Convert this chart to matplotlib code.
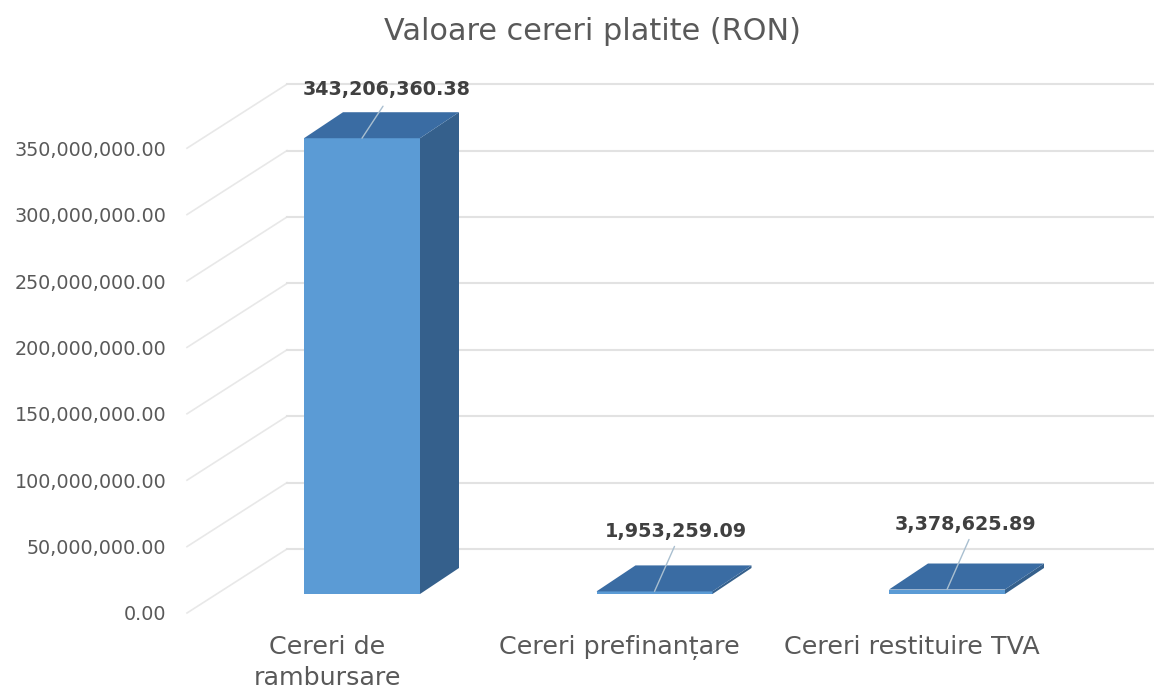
import matplotlib
matplotlib.use("Agg")
import matplotlib.pyplot as plt
from matplotlib.patches import Polygon
from matplotlib.transforms import ScaledTranslation

categories = ["Cereri de\nrambursare", "Cereri prefinanțare", "Cereri restituire TVA"]
values = [343206360.38, 1953259.09, 3378625.89]
y_ticks = [0, 50000000, 100000000, 150000000, 200000000, 250000000, 300000000, 350000000]

TEXT = "#595959"
GRID = "#e2e2e2"
FRONT = "#5b9bd5"
TOP = "#3a6ca3"
SIDE = "#35608c"

# 3D look: px sizes of the image turned into data units below
PX_PER_CAT = 292.5
PX_PER_VAL = 1.328e-6
WALL_DX = 100 / PX_PER_CAT
WALL_DY = 64 / PX_PER_VAL
BAR_DX = 39 / PX_PER_CAT
BAR_DY = 26 / PX_PER_VAL
BAR_W = 116 / PX_PER_CAT
FLOOR = 19 / PX_PER_VAL

plt.rcParams["font.family"] = ["DejaVu Sans"]

W, H = 1154, 690
fig = plt.figure(figsize=(W / 100, H / 100), dpi=100)
ax = fig.add_axes([187 / W, (H - 613) / H, (W - 187) / W, 613 / H])
ax.set_xlim((187 - 362) / PX_PER_CAT, (W - 362) / PX_PER_CAT)
ax.set_ylim(0, 613 / PX_PER_VAL)
for s in ax.spines.values():
    s.set_visible(False)

# wall lines with the diagonal on the left
x_left = ax.get_xlim()[0]
x_right = ax.get_xlim()[1]
for v in y_ticks:
    ax.plot([x_left, x_left + WALL_DX], [v, v + WALL_DY], color="#e8e8e8", lw=1.2, zorder=1, clip_on=False)
    ax.plot([x_left + WALL_DX, x_right], [v + WALL_DY, v + WALL_DY], color=GRID, lw=1.5, zorder=1, clip_on=False)

for i, v in enumerate(values):
    x0 = i - BAR_W / 2
    x1 = i + BAR_W / 2
    y0 = FLOOR
    y1 = FLOOR + v
    ax.bar(i, v, BAR_W, bottom=FLOOR, color=FRONT, zorder=2)
    ax.add_patch(Polygon([(x1, y0), (x1 + BAR_DX, y0 + BAR_DY), (x1 + BAR_DX, y1 + BAR_DY), (x1, y1)],
                         color=SIDE, lw=0, zorder=2))
    ax.add_patch(Polygon([(x0, y1), (x0 + BAR_DX, y1 + BAR_DY), (x1 + BAR_DX, y1 + BAR_DY), (x1, y1)],
                         color=TOP, lw=0, zorder=3))

# data labels with leader lines, offsets in px from the bar top centre
label_off = [(25, 49), (21, 60), (19, 65)]
leader_off = [(21, 32), (20, 45), (22, 50)]
for i, v in enumerate(values):
    ax.annotate(f"{v:,.2f}", (i, FLOOR + v), xytext=label_off[i], textcoords="offset pixels",
                ha="center", va="center", fontsize=13.8, fontweight="bold",
                color="#404040", zorder=5)
    ax.annotate("", (i, FLOOR + v), xytext=leader_off[i], textcoords="offset pixels",
                arrowprops=dict(arrowstyle="-", color="#a9bfd0", lw=1, shrinkA=0, shrinkB=0), zorder=4)

ax.set_yticks(y_ticks)
ax.set_yticklabels([f"{v:,.2f}" for v in y_ticks])
ax.set_xticks(range(len(categories)))
ax.set_xticklabels(categories, linespacing=1.35)
ax.tick_params(axis="y", length=0, pad=15, labelsize=13.8, labelcolor=TEXT)
ax.tick_params(axis="x", length=0, pad=16, labelsize=18.3, labelcolor=TEXT)
shift = ScaledTranslation(-35 / 100, 0, fig.dpi_scale_trans)
for lab in ax.get_xticklabels():
    lab.set_transform(lab.get_transform() + shift)

fig.text(592 / W, 1 - 32 / H, "Valoare cereri platite (RON)", ha="center", va="center",
         fontsize=21.8, color=TEXT)

fig.savefig("out.png", dpi=100)
